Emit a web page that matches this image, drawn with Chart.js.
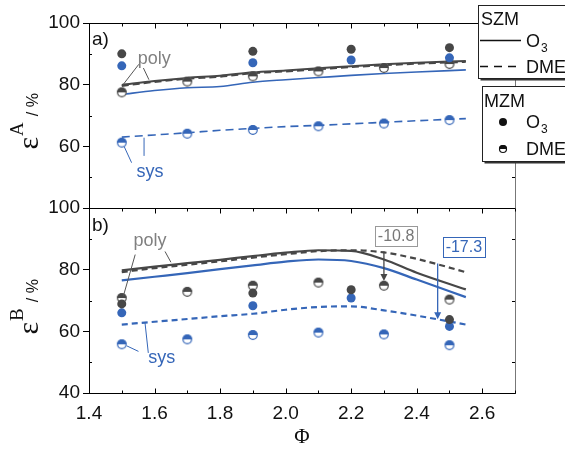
<!doctype html>
<html>
<head>
<meta charset="utf-8">
<title>Efficiency vs Phi</title>
<script src="https://cdn.jsdelivr.net/npm/chart.js@4.4.1/dist/chart.umd.min.js"></script>
<style>
body{margin:0;background:#fff;overflow:hidden}
#wrap{position:relative;width:565px;height:454px}
</style>
</head>
<body>
<div id="wrap"><canvas id="canvas" width="565" height="454"></canvas></div>
<script>
// ticks
var xTicks = [1.4, 1.6, 1.8, 2.0, 2.2, 2.4, 2.6];
var yTicksA = [60, 80, 100];
var yTicksB = [40, 60, 80, 100];

// SZM model curves (lines), sampled along phi
var phiLine = [1.5, 1.6, 1.7, 1.8, 1.9, 2.0, 2.1, 2.2, 2.3, 2.4, 2.55];
var aO3Poly  = [79.9, 81.2, 82.2, 82.9, 84.0, 84.6, 85.3, 86.0, 86.6, 87.1, 87.7];
var aDmePoly = [79.6, 80.9, 81.9, 82.6, 83.7, 84.3, 85.0, 85.7, 86.3, 86.8, 87.4];
var aO3Sys   = [76.8, 78.1, 79.0, 79.4, 80.8, 81.6, 82.3, 83.0, 83.6, 84.1, 84.8];
var aDmeSys  = [63.0, 63.7, 64.4, 65.2, 65.8, 66.4, 66.8, 67.3, 67.8, 68.3, 69.0];
var bO3Poly  = [79.8, 81.0, 82.1, 83.2, 84.4, 85.5, 86.3, 86.1, 83.3, 79.0, 73.6];
var bDmePoly = [79.2, 80.5, 81.6, 82.7, 83.9, 85.0, 86.0, 86.3, 85.6, 83.5, 79.2];
var bO3Sys   = [76.5, 77.7, 78.9, 80.2, 81.4, 82.6, 83.3, 82.8, 80.5, 76.8, 71.1];
var bDmeSys  = [62.2, 63.1, 64.0, 64.9, 65.7, 67.0, 67.9, 68.1, 66.8, 65.1, 62.2];

// MZM points
var phiO3  = [1.5, 1.9, 2.2, 2.5];
var phiDme = [1.5, 1.7, 1.9, 2.1, 2.3, 2.5];
var aMzmO3Poly  = [90.0, 90.8, 91.5, 92.0];
var aMzmO3Sys   = [86.1, 87.1, 88.0, 88.7];
var aMzmDmePoly = [77.5, 81.0, 82.7, 84.3, 85.4, 86.7];
var aMzmDmeSys  = [61.2, 64.1, 65.3, 66.5, 67.4, 68.5];
var bMzmO3Poly  = [68.9, 72.4, 73.5, 63.8];
var bMzmO3Sys   = [66.0, 68.3, 70.8, 61.6];
var bMzmDmePoly = [70.8, 72.8, 74.8, 75.8, 74.8, 70.3];
var bMzmDmeSys  = [55.8, 57.4, 58.8, 59.6, 59.0, 55.5];

var DARK = '#474747', BLUE = '#3566b8', GRAY = '#808080';
var SANS = '"Liberation Sans", Arial, sans-serif';
var SERIF = '"Liberation Serif", "Times New Roman", serif';

var zip = function(xs, ys){ return xs.map(function(x, i){ return {x: x, y: ys[i]}; }); };

var halfDot = function(color, r){
	var c = document.createElement('canvas');
	var s = Math.ceil(r * 2 + 2);
	c.width = c.height = s;
	var g = c.getContext('2d');
	g.beginPath(); g.arc(s/2, s/2, r, 0, 2*Math.PI); g.fillStyle = '#fff'; g.fill();
	g.beginPath(); g.arc(s/2, s/2, r, Math.PI, 2*Math.PI); g.closePath(); g.fillStyle = color; g.fill();
	g.beginPath(); g.arc(s/2, s/2, r - 0.5, 0, 2*Math.PI); g.strokeStyle = color; g.lineWidth = 1.2; g.stroke();
	return c;
};

var lineDs = function(ys, axis, color, dash, width){
	return {type: 'line', data: zip(phiLine, ys), yAxisID: axis, borderColor: color, borderWidth: width,
		borderDash: dash, pointRadius: 0, cubicInterpolationMode: 'monotone', fill: false, order: 2};
};
var dotDs = function(xs, ys, axis, color){
	return {type: 'scatter', data: zip(xs, ys), yAxisID: axis, pointStyle: 'circle', pointRadius: 4.5,
		backgroundColor: color, borderColor: color, borderWidth: 0, order: 1};
};
var halfDs = function(xs, ys, axis, color){
	return {type: 'scatter', data: zip(xs, ys), yAxisID: axis, pointStyle: halfDot(color, 4.8), pointRadius: 5, order: 1};
};

var datasets = [
	lineDs(aO3Poly, 'yA', DARK, [], 2),
	lineDs(aDmePoly, 'yA', DARK, [7, 4], 2),
	lineDs(aO3Sys, 'yA', BLUE, [], 1.6),
	lineDs(aDmeSys, 'yA', BLUE, [8, 5], 1.6),
	lineDs(bO3Poly, 'yB', DARK, [], 2.2),
	lineDs(bDmePoly, 'yB', DARK, [6, 4], 2.2),
	lineDs(bO3Sys, 'yB', BLUE, [], 2.2),
	lineDs(bDmeSys, 'yB', BLUE, [6, 4], 2.2),
	dotDs(phiO3, aMzmO3Poly, 'yA', DARK),
	dotDs(phiO3, aMzmO3Sys, 'yA', BLUE),
	halfDs(phiDme, aMzmDmePoly, 'yA', DARK),
	halfDs(phiDme, aMzmDmeSys, 'yA', BLUE),
	dotDs(phiO3, bMzmO3Poly, 'yB', DARK),
	dotDs(phiO3, bMzmO3Sys, 'yB', BLUE),
	halfDs(phiDme, bMzmDmePoly, 'yB', DARK),
	halfDs(phiDme, bMzmDmeSys, 'yB', BLUE)
];

var yAxis = function(min, ticks){
	return {
		type: 'linear', position: 'left', stack: 'panels', stackWeight: 1, min: min, max: 100,
		afterBuildTicks: function(s){ s.ticks = ticks.map(function(v){ return {value: v}; }); },
		afterFit: function(s){ s.width = 89; },
		grid: {drawOnChartArea: false, drawTicks: true, tickLength: 6, tickColor: '#000'},
		border: {display: true, color: '#000', width: 1},
		ticks: {autoSkip: false, padding: 3, color: '#111', font: {family: SANS, size: 19}}
	};
};

// annotations, frame, titles and legend
var line = function(ctx, x0, y0, x1, y1){ ctx.beginPath(); ctx.moveTo(x0, y0); ctx.lineTo(x1, y1); ctx.stroke(); };

var arrowDown = function(ctx, x, y0, y1, color){
	ctx.strokeStyle = color; ctx.fillStyle = color; ctx.lineWidth = 1.3;
	line(ctx, x, y0, x, y1 - 6);
	ctx.beginPath(); ctx.moveTo(x - 3.5, y1 - 7); ctx.lineTo(x + 3.5, y1 - 7); ctx.lineTo(x, y1); ctx.closePath(); ctx.fill();
};

var labelBox = function(ctx, cx, cy, text, color, border){
	ctx.font = '16px ' + SANS;
	var w = ctx.measureText(text).width + 6, h = 20;
	ctx.fillStyle = '#fff';
	ctx.fillRect(cx - w/2, cy - h/2, w, h);
	ctx.strokeStyle = border; ctx.lineWidth = 1;
	ctx.strokeRect(Math.round(cx - w/2) + 0.5, Math.round(cy - h/2) + 0.5, Math.round(w), h);
	ctx.fillStyle = color; ctx.textAlign = 'center'; ctx.textBaseline = 'middle';
	ctx.fillText(text, cx, cy + 1);
	ctx.textAlign = 'left'; ctx.textBaseline = 'alphabetic';
};

var yTitle = function(ctx, cy, letter){
	ctx.save();
	ctx.translate(38, cy);
	ctx.rotate(-Math.PI / 2);
	ctx.fillStyle = '#111';
	ctx.textAlign = 'left'; ctx.textBaseline = 'alphabetic';
	var u = -34;
	ctx.font = '30px ' + SERIF;
	ctx.fillText('\u03b5', u, 0);
	u += ctx.measureText('\u03b5').width + 1;
	ctx.font = '19px ' + SERIF;
	ctx.fillText(letter, u, -15);
	u += ctx.measureText(letter).width + 6;
	ctx.font = '16px ' + SANS;
	ctx.fillText('/ %', u, 0);
	ctx.restore();
};

var legBox = function(ctx, x, y, w, h){
	ctx.fillStyle = '#333';
	ctx.fillRect(x + 2, y + 2, w, h);
	ctx.fillStyle = '#fff';
	ctx.fillRect(x, y, w, h);
	ctx.strokeStyle = '#222'; ctx.lineWidth = 1;
	ctx.strokeRect(x, y, w, h);
};

var subText = function(ctx, x, y, main, sub){
	ctx.font = '18px ' + SANS;
	ctx.fillText(main, x, y);
	var w = ctx.measureText(main).width;
	ctx.font = '12px ' + SANS;
	ctx.fillText(sub, x + w + 1, y + 5);
};

var deco = {
	id: 'deco',
	afterDraw: function(chart){
		var ctx = chart.ctx, x = chart.scales.x, ya = chart.scales.yA, yb = chart.scales.yB;
		var L = chart.chartArea.left, R = chart.chartArea.right;
		var tA = Math.round(ya.top) + 0.5, mid = Math.round(yb.top) + 0.5, bot = Math.round(yb.bottom) + 0.5;
		ctx.save();

		// frame
		ctx.lineWidth = 1;
		ctx.strokeStyle = '#777';
		line(ctx, Math.round(R) + 0.5, tA, Math.round(R) + 0.5, bot);
		ctx.strokeStyle = '#000';
		line(ctx, L, tA, R, tA);
		line(ctx, L, mid, R, mid);

		// inward minor/major ticks
		for (var i = 0; i <= 13; i++) {
			var v = 1.4 + i * 0.1, px = Math.round(x.getPixelForValue(v)) + 0.5, len = (i % 2 === 0) ? 5 : 3;
			line(ctx, px, bot, px, bot - len);
			line(ctx, px, mid, px, mid + len);
			line(ctx, px, tA, px, tA + len);
		}
		[50, 70, 90].forEach(function(v){
			var p1 = Math.round(ya.getPixelForValue(v)) + 0.5, p2 = Math.round(yb.getPixelForValue(v)) + 0.5;
			line(ctx, L, p1, L + 3, p1); line(ctx, L, p2, L + 3, p2);
			line(ctx, R, p1, R - 3, p1); line(ctx, R, p2, R - 3, p2);
		});

		// panel labels
		ctx.fillStyle = '#111';
		ctx.font = '19px ' + SANS;
		ctx.fillText('a)', 92, 45);
		ctx.fillText('b)', 92, 231);

		// leader lines and callouts
		var P = function(s, v, w){ return [x.getPixelForValue(v), s.getPixelForValue(w)]; };
		var lead = function(s, a, b, color){
			var p = P(s, a[0], a[1]), q = P(s, b[0], b[1]);
			ctx.strokeStyle = color; ctx.lineWidth = 1; line(ctx, p[0], p[1], q[0], q[1]);
		};
		ctx.font = '18px ' + SANS;
		ctx.textAlign = 'center'; ctx.textBaseline = 'middle';
		var t;
		t = P(ya, 1.599, 88.4); ctx.fillStyle = GRAY; ctx.fillText('poly', t[0], t[1]);
		t = P(ya, 1.586, 51.6); ctx.fillStyle = BLUE; ctx.fillText('sys', t[0], t[1]);
		t = P(yb, 1.586, 89.2); ctx.fillStyle = GRAY; ctx.fillText('poly', t[0], t[1]);
		t = P(yb, 1.622, 51.4); ctx.fillStyle = BLUE; ctx.fillText('sys', t[0], t[1]);
		ctx.textAlign = 'left'; ctx.textBaseline = 'alphabetic';
		lead(ya, [1.552, 86.6], [1.504, 80.0], '#555');
		lead(ya, [1.566, 85.4], [1.583, 81.6], '#555');
		lead(ya, [1.530, 54.7], [1.507, 60.0], BLUE);
		lead(ya, [1.568, 56.9], [1.568, 62.8], BLUE);
		lead(yb, [1.541, 84.9], [1.505, 71.5], '#555');
		lead(yb, [1.632, 85.9], [1.650, 82.4], '#555');
		lead(yb, [1.551, 53.5], [1.515, 55.3], BLUE);
		lead(yb, [1.581, 53.0], [1.571, 62.7], BLUE);

		var a1 = P(yb, 2.3, 85.9), e1 = P(yb, 2.3, 76.3);
		arrowDown(ctx, a1[0], a1[1], e1[1], DARK);
		var a2 = P(yb, 2.464, 82.0), e2 = P(yb, 2.464, 63.9);
		arrowDown(ctx, a2[0], a2[1], e2[1], BLUE);
		t = P(yb, 2.337, 90.9); labelBox(ctx, t[0], t[1], '-10.8', '#777', '#999');
		t = P(yb, 2.544, 87.5); labelBox(ctx, t[0], t[1], '-17.3', BLUE, BLUE);

		// y titles
		yTitle(ctx, (ya.top + ya.bottom) / 2, 'A');
		yTitle(ctx, (yb.top + yb.bottom) / 2, 'B');

		// legends
		legBox(ctx, 478.5, 5.5, 110, 73);
		ctx.fillStyle = '#111';
		ctx.font = '18px ' + SANS;
		ctx.fillText('SZM', 481, 25);
		ctx.strokeStyle = '#111'; ctx.lineWidth = 1.5;
		line(ctx, 480, 40.5, 521, 40.5);
		ctx.setLineDash([8, 6]);
		line(ctx, 480, 66.5, 521, 66.5);
		ctx.setLineDash([]);
		subText(ctx, 526, 47, 'O', '3');
		ctx.font = '18px ' + SANS;
		ctx.fillText('DME', 526, 73);

		legBox(ctx, 482.5, 86.5, 110, 75);
		ctx.fillStyle = '#111';
		ctx.font = '18px ' + SANS;
		ctx.fillText('MZM', 484, 107);
		ctx.beginPath(); ctx.arc(503, 122, 4, 0, 2 * Math.PI); ctx.fill();
		subText(ctx, 526, 128, 'O', '3');
		ctx.drawImage(halfDot('#111', 4), 503 - 5, 149 - 5);
		ctx.fillStyle = '#111';
		ctx.font = '18px ' + SANS;
		ctx.fillText('DME', 526, 155);

		ctx.restore();
	}
};

window.onload = function(){
	var ctx = document.getElementById('canvas').getContext('2d');
	window.myChart = new Chart(ctx, {
		type: 'scatter',
		data: {datasets: datasets},
		options: {
			responsive: false,
			animation: false,
			layout: {padding: {top: 23, right: 50, bottom: 0, left: 0}},
			plugins: {legend: {display: false}, tooltip: {enabled: false}},
			scales: {
				x: {
					type: 'linear', min: 1.4, max: 2.7,
					afterBuildTicks: function(s){ s.ticks = xTicks.map(function(v){ return {value: v}; }); },
					afterFit: function(s){ s.height = 61; },
					grid: {drawOnChartArea: false, drawTicks: false},
					border: {display: true, color: '#000', width: 1},
					ticks: {autoSkip: false, maxRotation: 0, padding: 9, color: '#111', font: {family: SANS, size: 19},
						callback: function(v){ return Number(v).toFixed(1); }},
					title: {display: true, text: '\u03a6', color: '#111', font: {family: SERIF, size: 21}, padding: {top: 0, bottom: 4}}
				},
				yB: yAxis(40, yTicksB),
				yA: yAxis(40, yTicksA)
			}
		},
		plugins: [deco]
	});
};
</script>
</body>
</html>
